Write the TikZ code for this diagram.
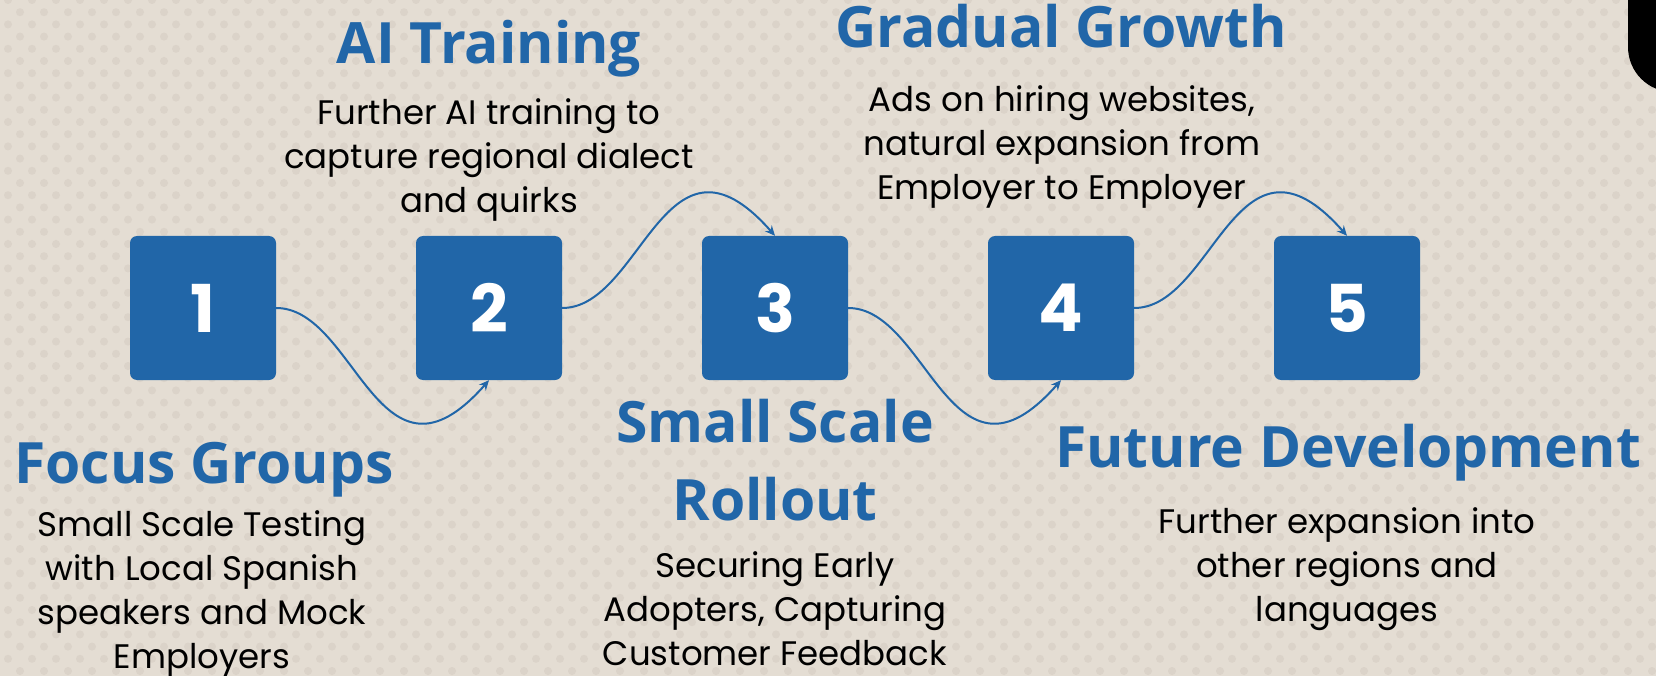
\documentclass[tikz,border=0pt]{standalone}
\usepackage{fontspec}
\setmainfont{Poppins}
\newfontfamily\headfont{Open Sans}
\usetikzlibrary{arrows.meta}
\definecolor{bgc}{RGB}{228,221,211}
\definecolor{dotc}{RGB}{219,211,201}
\definecolor{blu}{RGB}{33,102,168}
\tikzset{
  numbox/.style={fill=blu, rounded corners=7pt, minimum width=146pt, minimum height=144pt, inner sep=0pt, text=white, font=\fontsize{66}{66}\selectfont\bfseries},
  head/.style={anchor=base, inner sep=0pt, text=blu, font=\headfont\fontsize{57}{78}\selectfont\bfseries, align=center},
  body/.style={anchor=base, inner sep=0pt, text=black, font=\fontsize{34}{44}\selectfont, align=center},
  link/.style={draw=blu, line width=2pt, -{Stealth[length=10pt,width=9pt]}}
}
\begin{document}
\begin{tikzpicture}[x=1pt,y=-1pt]
\useasboundingbox (0,0) rectangle (1656,676);
\begin{scope}
\clip (0,0) rectangle (1656,676);
\fill[bgc] (0,0) rectangle (1656,676);
\foreach \j in {0,...,56} {
  \pgfmathsetmacro\xo{mod(\j,2)==0 ? 8 : 20}
  \foreach \k in {0,...,69} {
    \fill[dotc] (\xo+24*\k, 12.2*\j) circle (4pt);
  }
}
\fill[black, rounded corners=45pt] (1628,-80) rectangle (1740,92);
\end{scope}

\node[numbox] (b1) at (203,308) {1};
\node[numbox] (b2) at (489,308) {2};
\node[numbox] (b3) at (775,308) {3};
\node[numbox] (b4) at (1061,308) {4};
\node[numbox] (b5) at (1347,308) {5};

\draw[link] (b1.east) .. controls +(80,0) and +(-110,125) .. (b2.south);
\draw[link] (b2.east) .. controls +(80,0) and +(-110,-125) .. (b3.north);
\draw[link] (b3.east) .. controls +(80,0) and +(-110,125) .. (b4.south);
\draw[link] (b4.east) .. controls +(80,0) and +(-110,-125) .. (b5.north);

\node[head] (h1) at (204,483) {Focus Groups};
\node[head] (h2) at (489,64) {AI Training};
\node[head] (h3) at (1061,48) {Gradual Growth};
\node[head] (h4) at (775,520) {Small Scale\\Rollout};
\node[head] (h5) at (1348,467) {Future Development};

\node[body] (t1) at (202,668) {Small Scale Testing\\with Local Spanish\\speakers and Mock\\Employers};
\node[body] (t2) at (489,213) {Further AI training to\\capture regional dialect\\and quirks};
\node[body] (t3) at (1062,200) {Ads on hiring websites,\\natural expansion from\\Employer to Employer};
\node[body] (t4) at (775,665) {Securing Early\\Adopters, Capturing\\Customer Feedback};
\node[body] (t5) at (1347,621) {Further expansion into\\other regions and\\languages};
\end{tikzpicture}
\end{document}
